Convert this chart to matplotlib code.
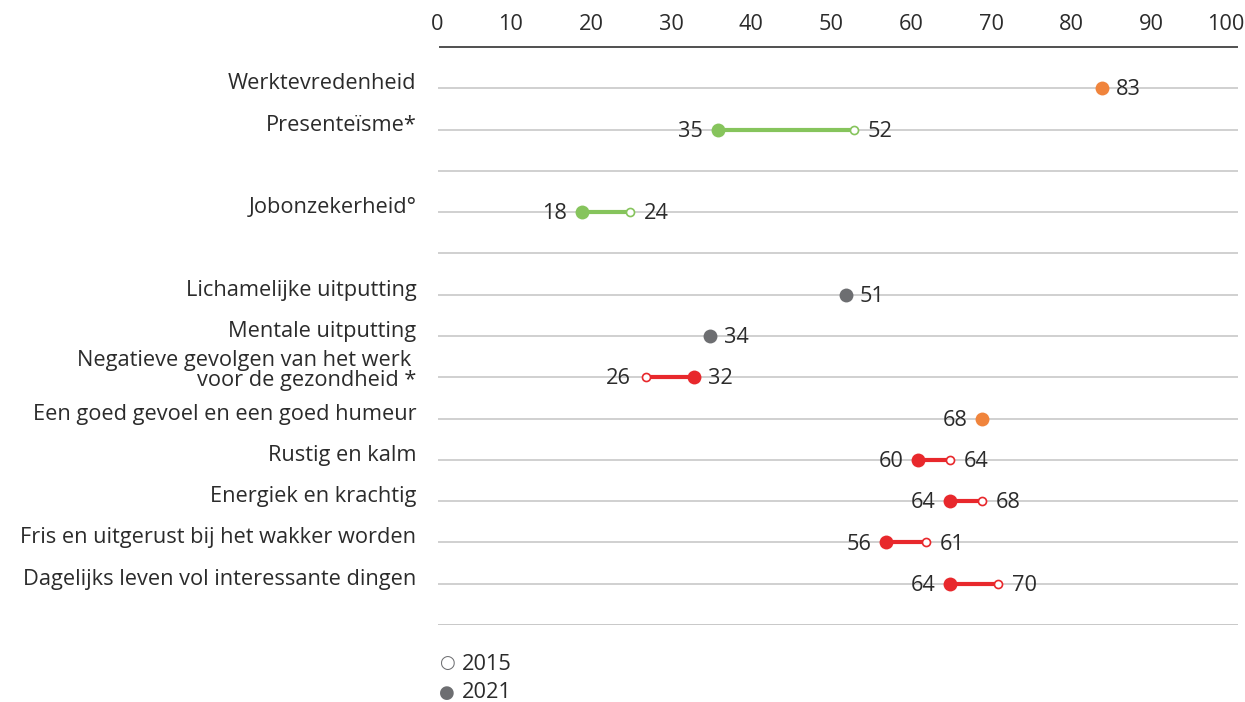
import numpy as np
import matplotlib.pyplot as plt
from matplotlib.transforms import ScaledTranslation

plt.rcParams['font.family'] = ['Open Sans', 'DejaVu Sans']

# rij-posities (1 = bovenste rij), lege rijen worden niet gelabeld
labels = ['Werktevredenheid', 'Presenteïsme*', '', 'Jobonzekerheid°', '',
          'Lichamelijke uitputting', 'Mentale uitputting',
          'Negatieve gevolgen van het werk \nvoor de gezondheid *',
          'Een goed gevoel en een goed humeur', 'Rustig en kalm',
          'Energiek en krachtig', 'Fris en uitgerust bij het wakker worden',
          'Dagelijks leven vol interessante dingen', '']
vals_2021 = [83, 35, None, 18, None, 51, 34, 32, 68, 60, 64, 56, 64, None]
vals_2015 = [None, 52, None, 24, None, None, None, 26, None, 64, 68, 61, 70, None]
kleuren = ['#f0843c', '#86c45c', None, '#86c45c', None, '#6d6e71', '#6d6e71',
           '#e8282c', '#f0843c', '#e8282c', '#e8282c', '#e8282c', '#e8282c', None]

W, H = 1245, 702
fig = plt.figure(figsize=(W / 100, H / 100), dpi=100)
ax = fig.add_axes([438 / W, 1 - 625 / H, 800 / W, (625 - 47) / H])
ax.set_xlim(0, 100)
ax.set_ylim(14, 0)

txt_kleur = '#2b2b2b'
fs = 15.7

for i in range(len(labels)):
    y = i + 1
    ax.axhline(y, color='#c8c8c8', lw=1.2, zorder=1)
    if labels[i]:
        dy = -0.17 if '\n' in labels[i] else -0.11
        ax.text(-2.7, y + dy, labels[i], ha='right', va='center', fontsize=fs,
                color=txt_kleur, linespacing=0.95)
    v21, v15, c = vals_2021[i], vals_2015[i], kleuren[i]
    if v21 is None:
        continue
    if v15 is not None:
        ax.plot([v21, v15], [y, y], color=c, lw=3, zorder=2, solid_capstyle='butt')
        ax.plot(v15, y, 'o', ms=5.8, mfc='white', mec=c, mew=1.2, zorder=3)
    ax.plot(v21, y, 'o', ms=10, color=c, mec='none', zorder=4)
    # waarde-labels: lager getal links, hoger getal rechts
    if v15 is None:
        links = [v21] if v21 in (68,) else []
        rechts = [] if links else [v21]
    else:
        links = [min(v21, v15)]
        rechts = [max(v21, v15)]
    for v in links:
        ax.text(v - 1.85, y + 0.04, str(v), ha='right', va='center', fontsize=fs,
                color=txt_kleur, zorder=5)
    for v in rechts:
        ax.text(v + 1.75, y + 0.04, str(v), ha='left', va='center', fontsize=fs,
                color=txt_kleur, zorder=5)

# x-as bovenaan
ax.xaxis.tick_top()
ticks = np.arange(0, 101, 10)
ax.set_xticks(ticks)
ax.set_xticklabels([str(t) for t in ticks], fontsize=fs, color=txt_kleur)
ax.tick_params(axis='x', length=0, pad=9)
for t, lab in zip(ticks, ax.get_xticklabels()):
    dx = -1 if t == 0 else (-12 if t == 100 else -7)
    lab.set_transform(lab.get_transform() + ScaledTranslation(dx / 100, 0, fig.dpi_scale_trans))
ax.set_yticks([])
for s in ['left', 'right', 'bottom']:
    ax.spines[s].set_visible(False)
ax.spines['top'].set_color('#505050')
ax.spines['top'].set_linewidth(1.4)
ax.spines['top'].set_bounds(0.3, 99.9)
ax.axhline(14, color='#c8c8c8', lw=1.2, zorder=1)

# legenda
fig.text(447 / W, 1 - 663 / H, '○', fontsize=13, color='#6d6e71', ha='center', va='center',
         family='DejaVu Sans')
fig.text(462 / W, 1 - 664 / H, '2015', fontsize=fs, color=txt_kleur, va='center')
fig.text(447 / W, 1 - 693 / H, '●', fontsize=13, color='#6d6e71', ha='center', va='center',
         family='DejaVu Sans')
fig.text(462 / W, 1 - 693 / H, '2021', fontsize=fs, color=txt_kleur, va='center')

fig.savefig('out.png', dpi=100)
